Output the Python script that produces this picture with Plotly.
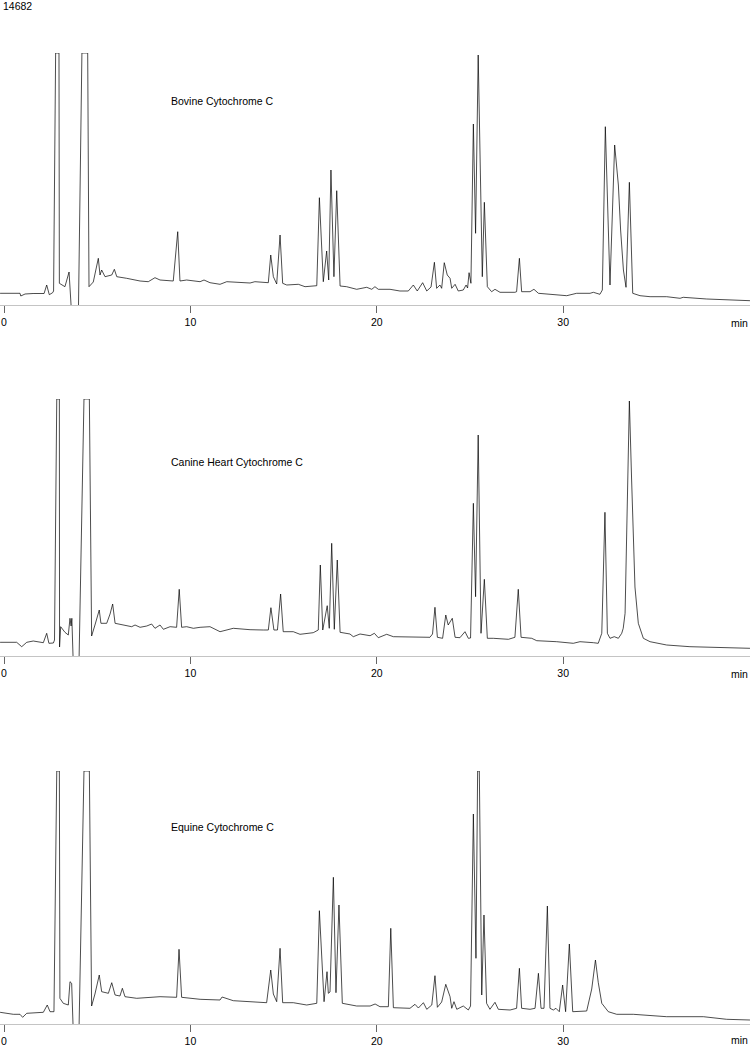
import plotly.graph_objects as go

# ---- Bovine Cytochrome C (time in min, signal) ----
bovine_t = [-0.21, 0.86, 0.90, 1.13, 1.56, 2.15, 2.29, 2.43, 2.61, 2.66, 2.77, 2.95, 2.97, 3.10, 3.27, 3.49, 3.63,
            3.99, 4.18, 4.49, 4.56, 4.79, 5.06, 5.15, 5.24, 5.42, 5.78, 5.92, 6.05, 6.58, 7.30, 7.74, 8.10, 8.37,
            9.08, 9.32, 9.44, 9.80, 10.52, 10.73, 11.05, 11.59, 11.95, 13.20, 13.46, 14.18, 14.31, 14.45, 14.63,
            14.81, 14.95, 15.17, 15.79, 16.15, 16.78, 16.92, 17.13, 17.31, 17.42, 17.54, 17.70, 17.85, 18.03,
            18.38, 18.92, 19.46, 19.73, 19.90, 20.08, 20.71, 21.24, 21.69, 21.96, 22.17, 22.46, 22.68, 22.91,
            23.09, 23.21, 23.39, 23.48, 23.62, 23.78, 23.93, 24.02, 24.20, 24.37, 24.64, 24.79, 24.87, 24.95,
            25.05, 25.18, 25.30, 25.44, 25.66, 25.77, 25.93, 26.16, 26.34, 26.61, 27.41, 27.50, 27.65, 27.77,
            28.22, 28.43, 28.67, 29.29, 30.19, 30.72, 31.44, 31.62, 31.97, 32.10, 32.26, 32.51, 32.76, 32.96,
            33.08, 33.23, 33.37, 33.55, 33.73, 34.12, 34.66, 35.55, 36.27, 36.44, 37.70, 40.02]
bovine_v = [11.7, 11.7, 9, 11, 11.5, 11.5, 20, 10.3, 12.3, 14, 252, 252, 21.7, 20, 18.3, 33, -10,
            -10, 252, 252, 18.3, 23, 46.7, 30, 35, 28.3, 30, 35.7, 28.3, 26.7, 24, 23.3, 27.3, 25,
            24, 73.3, 24, 25, 23.3, 25, 22.3, 20.7, 23.3, 22, 23.3, 22.3, 50, 28.3, 21,
            70, 21.7, 20, 20.7, 18.3, 19.3, 107.3, 23.3, 54, 25, 135, 28.3, 114.3, 19,
            18.3, 15.7, 17.7, 15.7, 18.3, 15.7, 15.7, 14, 14, 20, 14, 22.3, 14, 18,
            42.7, 16.7, 20, 16.7, 42.3, 30, 26.7, 16.7, 20.7, 14, 15, 20, 17, 32.3,
            21.7, 181, 71.7, 250, 28.3, 102.7, 18.3, 13.3, 15.7, 12.7, 12.7, 13.3, 46.7, 13.3,
            13.3, 15.7, 11.7, 11, 9.3, 11.7, 11.7, 12.7, 10.7, 15, 178.3, 20, 160, 120,
            75, 35, 17.7, 122.7, 11.7, 9.3, 8.3, 8.3, 6.7, 7.7, 6, 4.3]

# ---- Canine Heart Cytochrome C ----
canine_t = [-0.21, 0.68, 0.95, 1.22, 1.57, 2.11, 2.29, 2.41, 2.65, 2.71, 2.83, 2.97, 2.98, 3.04, 3.27, 3.45,
            3.54, 3.60, 3.64, 3.72, 4.02, 4.29, 4.58, 4.70, 4.88, 5.11, 5.20, 5.51, 5.69, 5.83, 5.96, 6.40,
            6.85, 7.03, 7.30, 7.66, 7.92, 8.10, 8.37, 8.55, 8.91, 9.26, 9.40, 9.53, 9.80, 10.16, 10.52,
            11.05, 11.59, 12.30, 13.20, 13.91, 14.18, 14.32, 14.48, 14.67, 14.84, 14.98, 15.52, 15.88,
            16.59, 16.86, 16.97, 17.10, 17.34, 17.45, 17.58, 17.72, 17.88, 18.03, 18.56, 18.74, 19.10,
            19.64, 19.87, 20.08, 20.53, 20.89, 22.14, 22.85, 22.99, 23.12, 23.25, 23.53, 23.70, 23.83,
            24.05, 24.20, 24.46, 24.73, 24.91, 25.03, 25.18, 25.30, 25.44, 25.59, 25.77, 25.93, 26.25,
            27.06, 27.41, 27.59, 27.74, 28.31, 28.58, 29.65, 30.54, 30.90, 31.62, 31.88, 32.07, 32.24,
            32.37, 32.51, 32.74, 32.96, 33.14, 33.22, 33.32, 33.41, 33.55, 33.67, 33.76, 33.85, 34.03,
            34.30, 34.66, 35.55, 36.80, 38.23, 40.02]
canine_v = [13.7, 13.7, 9.3, 13.7, 15, 13.3, 22.7, 12.7, 13, 16, 257, 257, 9, 29.3, 23.7, 21,
            37.7, 30, 37.7, -10, -10, 257, 257, 20, 31, 46, 32.7, 32.7, 42, 52, 32.7, 31,
            29.3, 31, 28.7, 30, 32, 27.7, 31, 26.7, 29.3, 28.7, 66.7, 28.7, 29.3, 27.7, 28.7,
            29.3, 24.3, 27.7, 26.3, 26, 26, 48.3, 26, 26, 62, 24.3, 24.3, 21.7,
            23.3, 26, 91, 26, 50.3, 27.7, 112.7, 26.7, 96, 23.7, 22, 19.3, 22,
            20.3, 22.7, 18.3, 21.7, 19.3, 18.7, 18.7, 22, 48.7, 18.7, 17.7, 41, 31,
            37.7, 18.7, 18.3, 24.3, 17.7, 18, 152.7, 59.3, 221, 22.7, 76.7, 17.7, 17.7,
            16.7, 18.7, 66.7, 18.7, 17.7, 15.3, 14.3, 12.7, 14.3, 13.3, 12.7, 22.7, 143.7,
            22.7, 17.7, 19.3, 17.7, 22.7, 27.7, 42.7, 136, 255, 176, 109, 69, 32.7,
            17.7, 14.3, 11, 9.3, 8.7, 7.7]

# ---- Equine Cytochrome C ----
equine_t = [-0.21, 0.50, 0.86, 1.00, 1.22, 2.11, 2.32, 2.47, 2.68, 2.83, 2.97, 3.00, 3.18, 3.45, 3.54, 3.63,
            3.72, 4.02, 4.29, 4.58, 4.70, 4.88, 5.11, 5.24, 5.60, 5.78, 5.96, 6.22, 6.35, 6.49, 7.12, 7.83,
            8.37, 9.26, 9.39, 9.53, 10.52, 11.59, 11.70, 12.30, 13.20, 14.09, 14.31, 14.45, 14.63, 14.81,
            14.95, 15.52, 16.24, 16.78, 16.92, 17.17, 17.33, 17.40, 17.49, 17.67, 17.81, 17.97, 18.15,
            18.92, 19.64, 19.91, 20.17, 20.62, 20.75, 20.89, 21.78, 22.05, 22.23, 22.50, 22.68, 22.95,
            23.12, 23.25, 23.48, 23.70, 23.93, 24.02, 24.14, 24.29, 24.64, 24.91, 25.03, 25.18, 25.32,
            25.41, 25.50, 25.63, 25.75, 25.89, 26.07, 26.34, 26.52, 27.15, 27.50, 27.65, 27.77, 28.22,
            28.49, 28.67, 28.81, 28.97, 29.15, 29.29, 29.47, 29.61, 29.79, 29.97, 30.13, 30.33, 30.51,
            31.26, 31.53, 31.73, 31.88, 32.07, 32.42, 32.87, 33.76, 35.55, 37.52, 38.77, 40.02]
equine_v = [11.7, 9.7, 9.7, 6.7, 10.7, 11.7, 19, 12.3, 12.3, 253, 253, 25.7, 20.7, 19, 42.3, 40.7,
            -10, -10, 253, 253, 18, 30, 49, 32.3, 30.7, 41.3, 29, 28, 35.7, 27.3, 25.7, 26.7,
            27.3, 26.7, 74.7, 26.7, 24.7, 24, 27, 23.3, 22, 21.3, 54, 30, 22.3, 75.7,
            21.3, 21.3, 19, 20.7, 113.3, 22.3, 52.3, 30.7, 32, 146.7, 31.3, 119, 20.7,
            18, 18, 20, 17.3, 17.3, 95.7, 16.3, 15.7, 19.7, 16, 21.3, 14.7, 19,
            48.3, 16.7, 22, 39.7, 27.3, 15.7, 22.3, 14.7, 18, 14, 18, 210, 65.7,
            253, 253, 29, 109, 20.7, 14.7, 21.7, 14.7, 14, 15.7, 55.7, 15.7, 14.7,
            15.7, 50.7, 15.7, 15.7, 118, 15.7, 14, 15.7, 12.3, 39, 12.3, 80, 12.3,
            13, 35, 64, 41.7, 20.7, 12.3, 9.7, 9.7, 7.3, 7.3, 4.7, 4]

sample_names = ["Bovine Cytochrome C", "Canine Heart Cytochrome C", "Equine Cytochrome C"]
tick_vals = [0, 10, 20, 30]
tick_text = ["0", "10", "20", "30"]
axis_unit = "min"
run_id = "14682"

W, H = 750, 1046
# panel pixel extents (top, bottom) of plot areas
panels = [(53, 305), (399, 656), (771, 1024)]
name_y_px = [101, 462, 827]
unit_offset_px = [18, 18, 16]
series = [(bovine_t, bovine_v), (canine_t, canine_v), (equine_t, equine_v)]

FONT = "Liberation Sans, Arial, Helvetica, sans-serif"
fig = go.Figure()
layout = dict(
    width=W, height=H, margin=dict(l=0, r=0, t=0, b=0),
    paper_bgcolor="white", plot_bgcolor="white", showlegend=False,
    font=dict(family=FONT, size=10.5, color="black"),
)
annotations = []
for i, ((t, v), (top, bot)) in enumerate(zip(series, panels)):
    k = "" if i == 0 else str(i + 1)
    fig.add_trace(go.Scatter(x=t, y=v, mode="lines", xaxis="x" + k, yaxis="y" + k,
                             line=dict(color="black", width=0.7), hoverinfo="skip"))
    layout["xaxis" + k] = dict(
        domain=[0, 1], anchor="y" + k, range=[-4 / 18.64, 746 / 18.64],
        showline=True, linecolor="#c4c4c4", linewidth=1, ticks="outside", ticklen=7,
        tickcolor="#666666", tickwidth=1, tickvals=tick_vals, ticktext=tick_text,
        showgrid=False, zeroline=False, tickfont=dict(family=FONT, size=10.5, color="black"),
    )
    layout["yaxis" + k] = dict(
        domain=[(H - bot) / H, (H - top) / H], anchor="x" + k,
        range=[0, bot - top], visible=False, showgrid=False, zeroline=False,
    )
    annotations.append(dict(text=sample_names[i], xref="paper", yref="paper",
                            x=169 / W, y=(H - name_y_px[i]) / H, xanchor="left", yanchor="middle",
                            showarrow=False, font=dict(family=FONT, size=10.5, color="black")))
    annotations.append(dict(text=axis_unit, xref="paper", yref="paper",
                            x=1, y=(H - (bot + unit_offset_px[i])) / H, xanchor="right", yanchor="middle",
                            showarrow=False, font=dict(family=FONT, size=10.5, color="black")))

annotations.append(dict(text=run_id, xref="paper", yref="paper", x=0, y=(H - 6) / H,
                        xanchor="left", yanchor="middle", xshift=1, showarrow=False,
                        font=dict(family=FONT, size=10.5, color="black")))
layout["annotations"] = annotations
fig.update_layout(**layout)
fig.write_html("out.html", config={"displayModeBar": False, "staticPlot": True},
               post_script="document.body.style.margin='0px';document.body.style.padding='0px';"
                           "document.body.style.overflow='hidden';")
